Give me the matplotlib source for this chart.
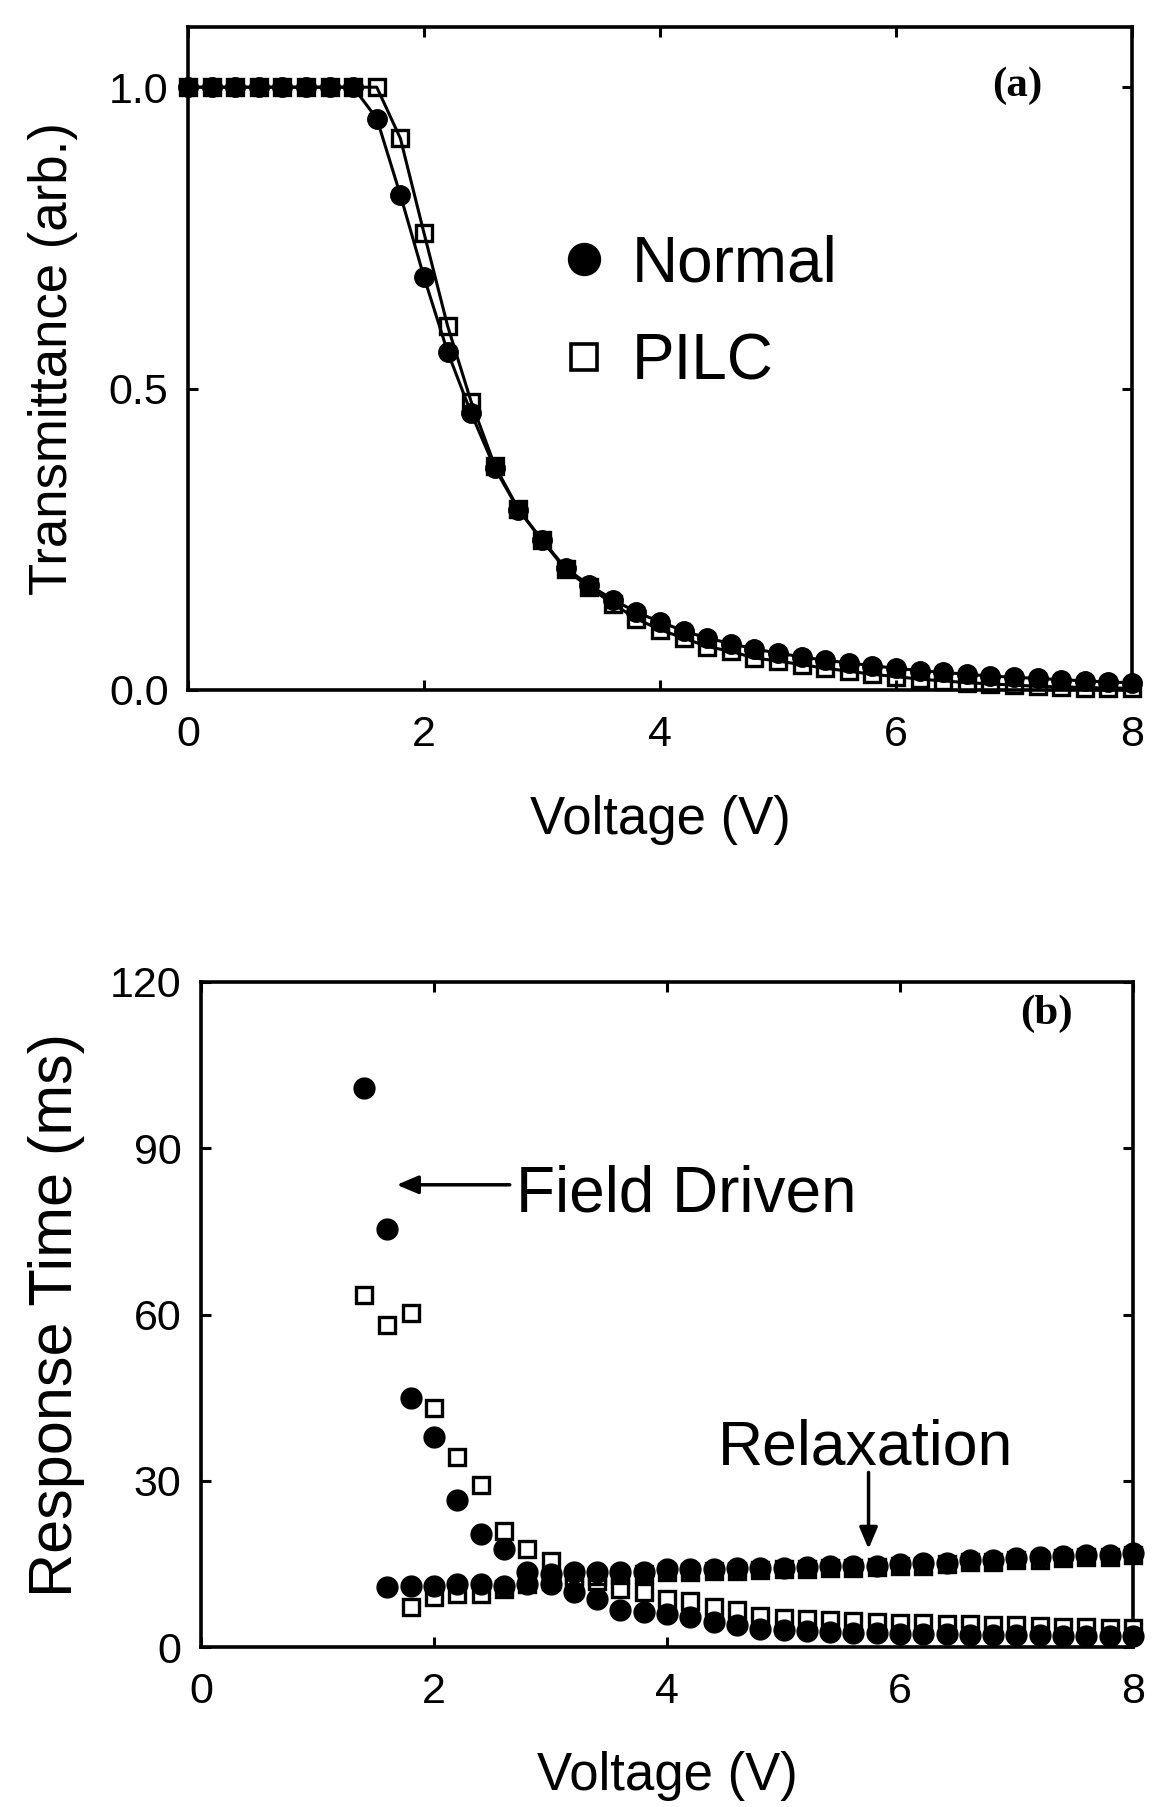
import matplotlib
matplotlib.use("Agg")
import matplotlib.pyplot as plt
from matplotlib.lines import Line2D
import numpy as np

plt.rcParams['font.family'] = ['Liberation Sans', 'DejaVu Sans']

# ---------------- data: panel (a) ----------------
voltage_a = [0.0, 0.2, 0.4, 0.6, 0.8, 1.0, 1.2, 1.4, 1.6, 1.8, 2.0, 2.2, 2.4, 2.6,
             2.8, 3.0, 3.2, 3.4, 3.6, 3.8, 4.0, 4.2, 4.4, 4.6, 4.8, 5.0, 5.2, 5.4,
             5.6, 5.8, 6.0, 6.2, 6.4, 6.6, 6.8, 7.0, 7.2, 7.4, 7.6, 7.8, 8.0]
trans_normal = [1.0, 1.0, 1.0, 1.0, 1.0, 1.0, 1.0, 1.0, 0.948, 0.821, 0.685, 0.561,
                0.459, 0.368, 0.299, 0.249, 0.202, 0.174, 0.150, 0.129, 0.113, 0.098,
                0.086, 0.077, 0.068, 0.061, 0.055, 0.049, 0.045, 0.040, 0.036, 0.032,
                0.029, 0.026, 0.023, 0.021, 0.019, 0.017, 0.015, 0.013, 0.012]
trans_pilc = [1.0, 1.0, 1.0, 1.0, 1.0, 1.0, 1.0, 1.0, 1.0, 0.915, 0.758, 0.604,
              0.478, 0.372, 0.300, 0.248, 0.200, 0.170, 0.143, 0.118, 0.100, 0.086,
              0.072, 0.064, 0.053, 0.048, 0.042, 0.036, 0.031, 0.026, 0.022, 0.018,
              0.015, 0.012, 0.010, 0.008, 0.006, 0.005, 0.004, 0.003, 0.003]

# ---------------- data: panel (b) ----------------
v_fd_normal = [1.4, 1.6, 1.8, 2.0, 2.2, 2.4, 2.6, 2.8, 3.0, 3.2, 3.4, 3.6, 3.8, 4.0,
               4.2, 4.4, 4.6, 4.8, 5.0, 5.2, 5.4, 5.6, 5.8, 6.0, 6.2, 6.4, 6.6, 6.8,
               7.0, 7.2, 7.4, 7.6, 7.8, 8.0]
t_fd_normal = [100.8, 75.4, 45.0, 37.9, 26.5, 20.4, 17.7, 13.5, 11.4, 9.9, 8.7, 6.6,
               6.3, 6.0, 5.5, 4.5, 3.9, 3.3, 3.0, 2.9, 2.7, 2.6, 2.5, 2.4, 2.3, 2.3,
               2.2, 2.2, 2.1, 2.1, 2.0, 2.0, 2.0, 2.0]

v_fd_pilc = [1.4, 1.6, 1.8, 2.0, 2.2, 2.4, 2.6, 2.8, 3.0, 3.2, 3.4, 3.6, 3.8, 4.0,
             4.2, 4.4, 4.6, 4.8, 5.0, 5.2, 5.4, 5.6, 5.8, 6.0, 6.2, 6.4, 6.6, 6.8,
             7.0, 7.2, 7.4, 7.6, 7.8, 8.0]
t_fd_pilc = [63.5, 58.1, 60.3, 43.2, 34.3, 29.2, 21.0, 17.7, 15.6, 13.0, 12.0, 10.5,
             9.9, 8.7, 8.4, 7.2, 6.7, 5.6, 5.3, 5.0, 4.9, 4.7, 4.6, 4.4, 4.3, 4.2,
             4.1, 4.0, 3.9, 3.8, 3.7, 3.6, 3.5, 3.4]

v_rx_normal = [1.6, 1.8, 2.0, 2.2, 2.4, 2.6, 2.8, 3.0, 3.2, 3.4, 3.6, 3.8, 4.0, 4.2,
               4.4, 4.6, 4.8, 5.0, 5.2, 5.4, 5.6, 5.8, 6.0, 6.2, 6.4, 6.6, 6.8, 7.0,
               7.2, 7.4, 7.6, 7.8, 8.0]
t_rx_normal = [10.8, 11.1, 11.1, 11.4, 11.4, 11.1, 11.4, 13.2, 13.5, 13.5, 13.5, 13.6,
               14.0, 14.0, 14.0, 14.2, 14.3, 14.3, 14.5, 14.6, 14.6, 14.7, 14.9, 15.1,
               15.2, 15.7, 15.8, 16.1, 16.2, 16.5, 16.7, 16.6, 17.0]

v_rx_pilc = [1.8, 2.0, 2.2, 2.4, 2.6, 2.8, 3.0, 3.2, 3.4, 3.6, 3.8, 4.0, 4.2, 4.4,
             4.6, 4.8, 5.0, 5.2, 5.4, 5.6, 5.8, 6.0, 6.2, 6.4, 6.6, 6.8, 7.0, 7.2,
             7.4, 7.6, 7.8, 8.0]
t_rx_pilc = [7.2, 9.0, 9.6, 9.6, 10.5, 11.4, 12.0, 12.5, 12.8, 13.0, 13.2, 13.6, 13.6,
             13.7, 13.8, 13.9, 14.0, 14.1, 14.2, 14.3, 14.4, 14.6, 14.7, 14.9, 15.3,
             15.4, 15.7, 15.8, 16.1, 16.3, 16.2, 16.6]

xticks = [0, 2, 4, 6, 8]
yticks_a = [0.0, 0.5, 1.0]
yticks_b = [0, 30, 60, 90, 120]

# ---------------- figure ----------------
fig = plt.figure(figsize=(11.52, 18.07), dpi=100)
ax1 = fig.add_axes([0.1632, 0.6182, 0.8194, 0.3669])
ax2 = fig.add_axes([0.1745, 0.0885, 0.8090, 0.3681])

TICK_FS = 31

for ax in (ax1, ax2):
    for s in ax.spines.values():
        s.set_linewidth(2.6)
    ax.tick_params(direction='in', length=7, width=2.2, top=True, right=True,
                   labelsize=TICK_FS, pad=14)
    ax.tick_params(axis='x', pad=18)
    ax.set_xlim(0, 8)
    ax.set_xticks(xticks)

# panel (a)
ax1.plot(voltage_a, trans_pilc, '-', color='black', lw=2.2, zorder=2)
ax1.plot(voltage_a, trans_normal, '-', color='black', lw=2.2, zorder=2)
ax1.plot(voltage_a, trans_pilc, 's', ms=11, mfc='none', mec='black', mew=2.4,
         zorder=3, clip_on=False)
ax1.plot(voltage_a, trans_normal, 'o', ms=14, mfc='black', mec='black', mew=1,
         zorder=4, clip_on=False)
ax1.set_ylim(0, 1.1)
ax1.set_yticks(yticks_a)
ax1.set_yticklabels(['0.0', '0.5', '1.0'])
ax1.set_xlabel('Voltage (V)', fontsize=38)
ax1.set_ylabel('Transmittance (arb.)', fontsize=38)
ax1.xaxis.set_label_coords(0.5, -0.196)
ax1.xaxis.label.set_va('center')
ax1.yaxis.set_label_coords(-0.143, 0.5)
ax1.yaxis.label.set_va('center')
ax1.text(0.879, 0.911, '(a)', transform=ax1.transAxes, ha='center', va='center',
         fontsize=31, fontweight='bold', family='Liberation Serif')

handles = [Line2D([], [], ls='none', marker='o', ms=23, mfc='black', mec='black'),
           Line2D([], [], ls='none', marker='s', ms=19, mfc='none', mec='black', mew=2.6)]
ax1.legend(handles, ['Normal', 'PILC'], loc='center left',
           bbox_to_anchor=(0.352, 0.568), frameon=False, fontsize=46,
           handletextpad=0.25, labelspacing=0.6, handlelength=1.0, borderpad=0)

# panel (b)
ax2.plot(v_fd_pilc, t_fd_pilc, 's', ms=12, mfc='white', mec='black', mew=2.4,
         zorder=3, clip_on=False)
ax2.plot(v_rx_pilc, t_rx_pilc, 's', ms=12, mfc='white', mec='black', mew=2.4,
         zorder=3, clip_on=False)
ax2.plot(v_fd_normal, t_fd_normal, 'o', ms=15, mfc='black', mec='black', mew=1,
         zorder=4, clip_on=False)
ax2.plot(v_rx_normal, t_rx_normal, 'o', ms=15, mfc='black', mec='black', mew=1,
         zorder=4, clip_on=False)
ax2.set_ylim(0, 120)
ax2.set_yticks(yticks_b)
ax2.set_xlabel('Voltage (V)', fontsize=38)
ax2.set_ylabel('Response Time (ms)', fontsize=44)
ax2.xaxis.set_label_coords(0.5, -0.194)
ax2.xaxis.label.set_va('center')
ax2.yaxis.set_label_coords(-0.155, 0.5)
ax2.yaxis.label.set_va('center')
ax2.text(0.907, 0.952, '(b)', transform=ax2.transAxes, ha='center', va='center',
         fontsize=31, fontweight='bold', family='Liberation Serif')

arrow_kw = dict(arrowstyle='-|>,head_length=1.3,head_width=0.55', color='black',
                lw=2.5, shrinkA=0, shrinkB=0)
ax2.annotate('', xy=(1.68, 83.4), xytext=(2.65, 83.4), arrowprops=arrow_kw)
ax2.text(2.70, 81.6, 'Field Driven', fontsize=46, ha='left', va='center')
ax2.annotate('', xy=(5.73, 17.7), xytext=(5.73, 31.5), arrowprops=arrow_kw)
ax2.text(4.44, 36.0, 'Relaxation', fontsize=45, ha='left', va='center')

fig.savefig('out.png', dpi=100)
